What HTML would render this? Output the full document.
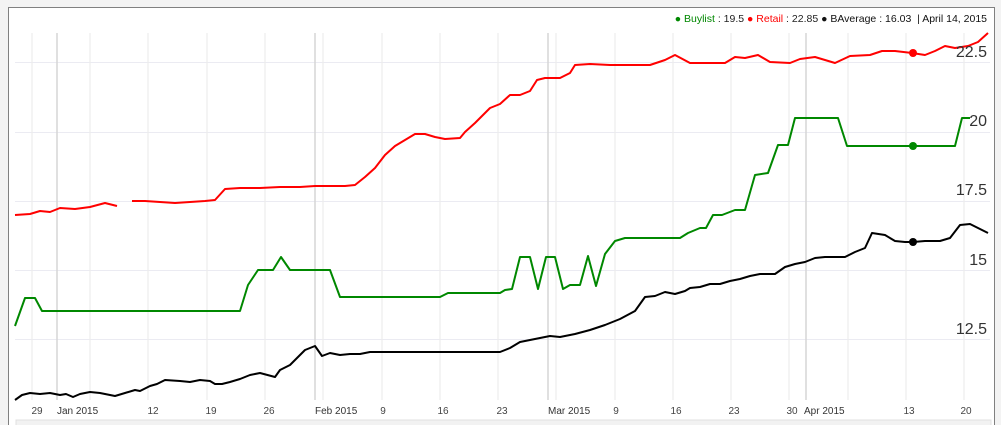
<!DOCTYPE html>
<html><head><meta charset="utf-8"><style>
html,body{margin:0;padding:0;background:#f3f3f3;}
body{width:1001px;height:425px;overflow:hidden;position:relative;font-family:"Liberation Sans",sans-serif;}
</style></head><body>
<svg width="1001" height="425" style="position:absolute;left:0;top:0">
<rect x="8.5" y="7.5" width="986" height="430" fill="#fff" stroke="#808080" stroke-width="1"/>
<g stroke="#ebebf2" stroke-width="1">
<line x1="15" y1="62.5" x2="990" y2="62.5"/>
<line x1="15" y1="132.5" x2="990" y2="132.5"/>
<line x1="15" y1="201.5" x2="990" y2="201.5"/>
<line x1="15" y1="270.5" x2="990" y2="270.5"/>
<line x1="15" y1="339.5" x2="990" y2="339.5"/>
</g>
<g stroke="#ececec" stroke-width="1.2">
<line x1="32" y1="33" x2="32" y2="400"/>
<line x1="90" y1="33" x2="90" y2="400"/>
<line x1="148" y1="33" x2="148" y2="400"/>
<line x1="207" y1="33" x2="207" y2="400"/>
<line x1="265" y1="33" x2="265" y2="400"/>
<line x1="323" y1="33" x2="323" y2="400"/>
<line x1="382" y1="33" x2="382" y2="400"/>
<line x1="440" y1="33" x2="440" y2="400"/>
<line x1="498" y1="33" x2="498" y2="400"/>
<line x1="556" y1="33" x2="556" y2="400"/>
<line x1="615" y1="33" x2="615" y2="400"/>
<line x1="673" y1="33" x2="673" y2="400"/>
<line x1="731" y1="33" x2="731" y2="400"/>
<line x1="789" y1="33" x2="789" y2="400"/>
<line x1="848" y1="33" x2="848" y2="400"/>
<line x1="906" y1="33" x2="906" y2="400"/>
<line x1="964" y1="33" x2="964" y2="400"/>
</g>
<g stroke="#d6d6d6" stroke-width="1.5">
<line x1="57" y1="33" x2="57" y2="400"/>
<line x1="315" y1="33" x2="315" y2="400"/>
<line x1="548" y1="33" x2="548" y2="400"/>
<line x1="806" y1="33" x2="806" y2="400"/>
</g>
<g fill="none" stroke-width="2" stroke-linejoin="round">
<polyline stroke="#f00" points="15,215 30,214 40,211 50,212 60,208 75,209 90,207 105,203 117,206"/>
<polyline stroke="#f00" points="132,201 145,201 160,202 175,203 190,202 205,201 215,200 225,189 240,188 260,188 280,187 300,187 315,186 330,186 345,186 355,185 365,177 375,168 385,155 395,146 405,140 415,134 425,134 435,137 445,139 460,138 465,132 475,123 480,118 490,108 500,104 510,95 520,95 530,91 537,80 545,78 560,78 570,73 575,65 590,64 610,65 630,65 650,65 665,60 675,55 690,63 710,63 725,63 735,57 745,58 758,55 770,62 790,63 800,59 815,57 825,60 835,63 850,56 870,55 882,51 895,51 912,53 925,55 935,51 945,46 955,48 968,46 978,42 988,33"/>
<polyline stroke="#080" points="15,326 25,298 35,298 42,311 240,311 248,285 258,270 273,270 281,257 290,270 330,270 340,297 440,297 448,293 500,293 505,290 512,289 520,257 530,257 538,289 546,257 555,257 563,289 570,285 580,285 588,256 596,286 605,254 615,241 625,238 680,238 688,233 700,228 706,228 713,215 722,215 735,210 745,210 755,175 768,173 778,145 788,145 795,118 838,118 847,146 955,146 962,118 970,118"/>
<polyline stroke="#000" points="15,400 22,395 30,393 40,394 50,393 60,395 66,394 73,397 80,394 90,392 100,393 115,396 125,393 135,390 140,391 150,386 157,384 165,380 180,381 190,382 200,380 210,381 215,384 222,384 230,382 240,379 250,375 260,373 275,377 280,370 290,365 305,350 315,346 322,356 330,353 340,355 350,354 360,354 370,352 400,352 440,352 500,352 510,348 520,342 535,339 550,336 560,337 575,334 590,330 605,325 620,319 635,311 645,297 655,296 665,292 675,294 685,291 690,288 700,287 710,284 720,284 730,281 740,279 750,276 760,274 775,274 785,267 795,264 805,262 815,258 825,257 845,257 855,252 865,248 872,233 885,235 895,241 905,242 913,242 925,241 940,241 950,238 960,225 970,224 980,229 988,233"/>
</g>
<circle cx="913" cy="53" r="4" fill="#f00"/>
<circle cx="913" cy="146" r="4" fill="#080"/>
<circle cx="913" cy="242" r="4" fill="#000"/>
<g font-size="16" fill="#333" text-anchor="end">
<text x="987" y="57">22.5</text>
<text x="987" y="126">20</text>
<text x="987" y="195">17.5</text>
<text x="987" y="265">15</text>
<text x="987" y="334">12.5</text>
</g>
<g font-size="10" fill="#444" text-anchor="middle">
<text x="37" y="414">29</text>
<text x="153" y="414">12</text>
<text x="211" y="414">19</text>
<text x="269" y="414">26</text>
<text x="383" y="414">9</text>
<text x="443" y="414">16</text>
<text x="502" y="414">23</text>
<text x="616" y="414">9</text>
<text x="676" y="414">16</text>
<text x="734" y="414">23</text>
<text x="792" y="414">30</text>
<text x="909" y="414">13</text>
<text x="966" y="414">20</text>
</g>
<g font-size="10" fill="#333">
<text x="57" y="414">Jan 2015</text>
<text x="315" y="414">Feb 2015</text>
<text x="548" y="414">Mar 2015</text>
<text x="804" y="414">Apr 2015</text>
</g>
<rect x="16" y="420" width="975" height="10" fill="#f2f2f2" stroke="#e0e0e0"/>
<text x="987" y="22" font-size="10.5" text-anchor="end"><tspan fill="#080">● Buylist</tspan><tspan fill="#222"> : 19.5 </tspan><tspan fill="#f00">● Retail</tspan><tspan fill="#222"> : 22.85 </tspan><tspan fill="#111">● BAverage : 16.03 &#160;| April 14, 2015</tspan></text>
</svg>
</body></html>
